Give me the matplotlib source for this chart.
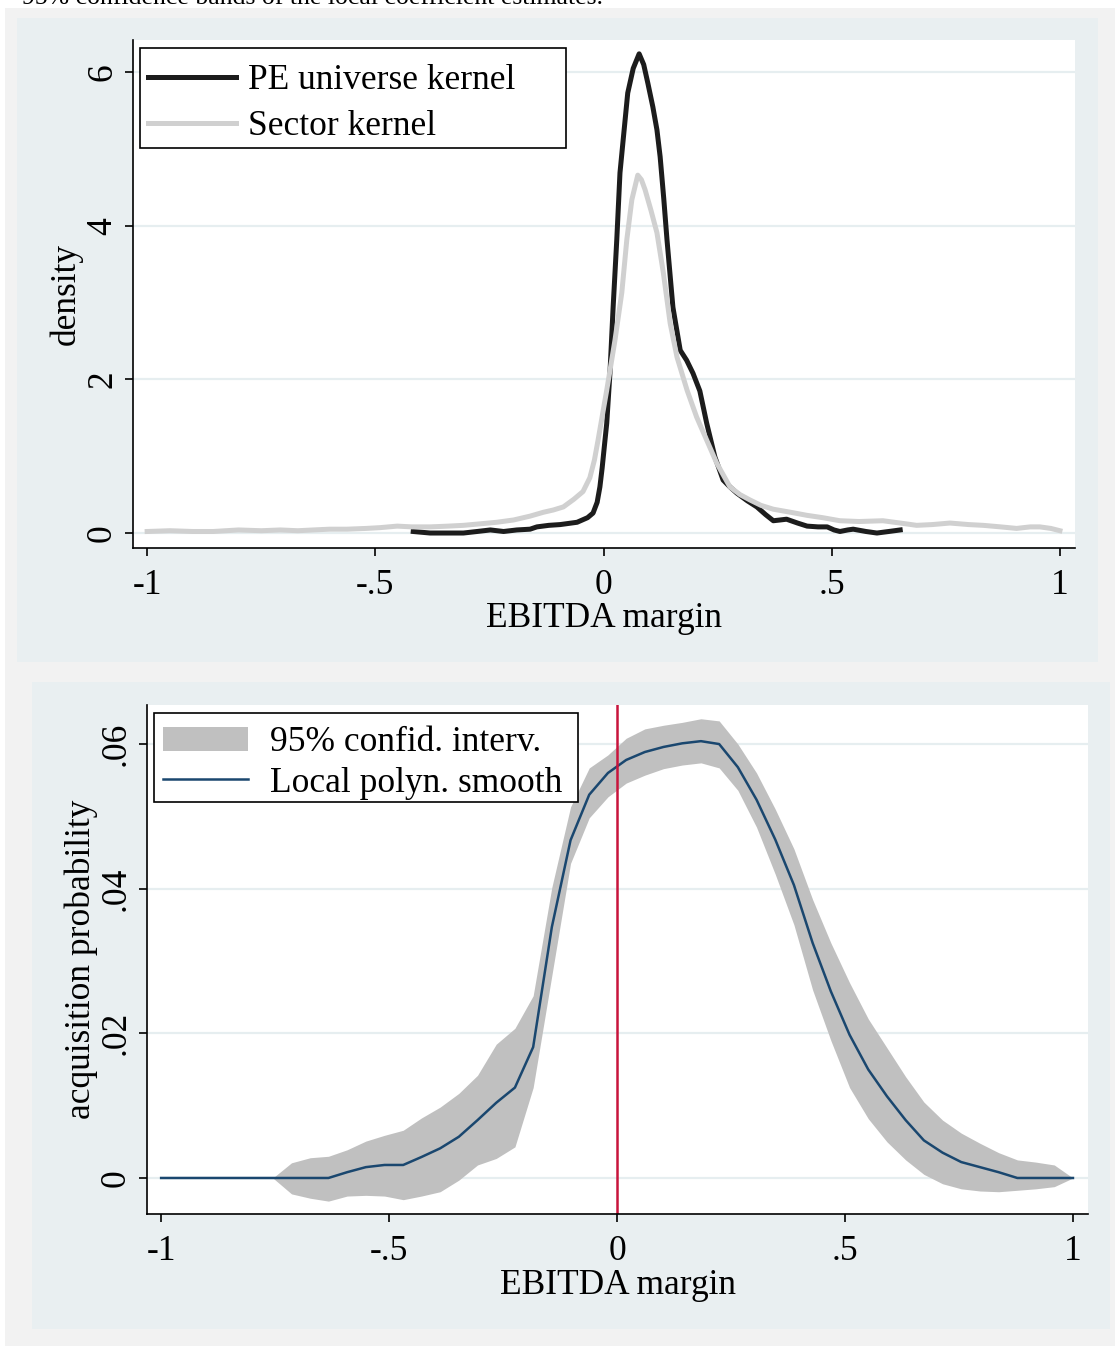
import matplotlib
matplotlib.use("Agg")
import matplotlib.pyplot as plt
from matplotlib.patches import Rectangle

plt.rcParams['font.family'] = ['Liberation Serif', 'DejaVu Serif']

# --- top panel: kernel densities of EBITDA margin ---
pe_x = [-0.417, -0.38, -0.34, -0.307, -0.277, -0.248, -0.219, -0.19, -0.161, -0.146,
        -0.12, -0.095, -0.058, -0.035, -0.023, -0.014, -0.008, -0.003, 0.003, 0.007,
        0.014, 0.021, 0.029, 0.036, 0.043, 0.053, 0.065, 0.078, 0.088, 0.097,
        0.108, 0.117, 0.124, 0.132, 0.139, 0.152, 0.168, 0.182, 0.196, 0.211,
        0.226, 0.244, 0.262, 0.277, 0.292, 0.315, 0.336, 0.355, 0.372, 0.387,
        0.401, 0.425, 0.446, 0.47, 0.49, 0.505, 0.518, 0.535, 0.547, 0.575,
        0.599, 0.625, 0.65]
pe_y = [0.02, 0.0, 0.0, 0.0, 0.02, 0.04, 0.02, 0.04, 0.05, 0.08,
        0.10, 0.11, 0.14, 0.20, 0.26, 0.40, 0.60, 0.85, 1.20, 1.43,
        2.08, 2.94, 3.82, 4.69, 5.12, 5.73, 6.05, 6.24, 6.10, 5.86,
        5.55, 5.25, 4.90, 4.35, 3.82, 2.94, 2.38, 2.25, 2.08, 1.85,
        1.43, 0.99, 0.69, 0.60, 0.52, 0.42, 0.34, 0.24, 0.16, 0.17,
        0.18, 0.13, 0.09, 0.08, 0.08, 0.04, 0.02, 0.04, 0.05, 0.02,
        0.0, 0.02, 0.04]

sector_x = [-1.0, -0.95, -0.9, -0.855, -0.8, -0.75, -0.708, -0.67, -0.636, -0.6,
            -0.562, -0.52, -0.49, -0.452, -0.42, -0.38, -0.34, -0.307, -0.27, -0.234,
            -0.197, -0.161, -0.132, -0.11, -0.088, -0.065, -0.045, -0.03, -0.02, -0.012,
            0.007, 0.025, 0.04, 0.051, 0.062, 0.075, 0.083, 0.091, 0.104, 0.117,
            0.131, 0.146, 0.161, 0.183, 0.204, 0.226, 0.248, 0.277, 0.299, 0.321,
            0.345, 0.372, 0.41, 0.446, 0.48, 0.518, 0.56, 0.612, 0.65, 0.686,
            0.72, 0.759, 0.8, 0.832, 0.87, 0.905, 0.935, 0.956, 0.98, 1.0]
sector_y = [0.02, 0.03, 0.02, 0.02, 0.04, 0.03, 0.04, 0.03, 0.04, 0.05,
            0.05, 0.06, 0.07, 0.09, 0.08, 0.08, 0.09, 0.10, 0.12, 0.14,
            0.17, 0.22, 0.27, 0.30, 0.34, 0.44, 0.54, 0.72, 0.95, 1.21,
            1.86, 2.51, 3.13, 3.82, 4.34, 4.66, 4.60, 4.47, 4.20, 3.91,
            3.39, 2.73, 2.29, 1.86, 1.51, 1.21, 0.91, 0.60, 0.50, 0.43,
            0.36, 0.31, 0.27, 0.23, 0.20, 0.16, 0.15, 0.16, 0.13, 0.10,
            0.11, 0.13, 0.11, 0.10, 0.08, 0.06, 0.08, 0.08, 0.06, 0.03]

# --- bottom panel: local polynomial smooth of acquisition probability ---
grid_x = [-1.0, -0.959, -0.918, -0.878, -0.837, -0.796, -0.755, -0.714, -0.673, -0.633,
          -0.592, -0.551, -0.51, -0.469, -0.429, -0.388, -0.347, -0.306, -0.265, -0.224,
          -0.184, -0.143, -0.102, -0.061, -0.02, 0.02, 0.061, 0.102, 0.143, 0.184,
          0.224, 0.265, 0.306, 0.347, 0.388, 0.429, 0.469, 0.51, 0.551, 0.592,
          0.633, 0.673, 0.714, 0.755, 0.796, 0.837, 0.878, 0.918, 0.959, 1.0]
smooth = [0, 0, 0, 0, 0, 0, 0, 0, 0, 0,
          0.0008, 0.0015, 0.0018, 0.0018, 0.0029, 0.0041, 0.0057, 0.0080, 0.0104, 0.0125,
          0.0181, 0.0347, 0.0467, 0.0530, 0.0560, 0.0578, 0.0589, 0.0596, 0.0601, 0.0604,
          0.0600, 0.0568, 0.0523, 0.0468, 0.0405, 0.0325, 0.0258, 0.0198, 0.0150, 0.0113,
          0.0080, 0.0052, 0.0035, 0.0022, 0.0015, 0.0008, 0, 0, 0, 0]
ci_upper = [0, 0, 0, 0, 0, 0, 0, 0.0021, 0.0028, 0.0030,
            0.0039, 0.0051, 0.0059, 0.0066, 0.0083, 0.0098, 0.0117, 0.0142, 0.0185, 0.0207,
            0.0252, 0.0402, 0.0513, 0.0567, 0.0585, 0.0608, 0.0621, 0.0626, 0.0630, 0.0635,
            0.0632, 0.0600, 0.0560, 0.0510, 0.0455, 0.0385, 0.0325, 0.0270, 0.0220, 0.0180,
            0.0140, 0.0105, 0.0080, 0.0062, 0.0048, 0.0035, 0.0025, 0.0022, 0.0018, 0]
ci_lower = [0, 0, 0, 0, 0, 0, 0, -0.0022, -0.0028, -0.0032,
            -0.0025, -0.0024, -0.0025, -0.0030, -0.0025, -0.0019, -0.0003, 0.0018, 0.0027, 0.0043,
            0.0125, 0.0280, 0.0435, 0.0498, 0.0527, 0.0546, 0.0557, 0.0566, 0.0571, 0.0574,
            0.0567, 0.0536, 0.0485, 0.0420, 0.0350, 0.0260, 0.0190, 0.0125, 0.0082, 0.0050,
            0.0025, 0.0005, -0.0008, -0.0015, -0.0018, -0.0019, -0.0017, -0.0015, -0.0012, 0]

xticks = [-1, -0.5, 0, 0.5, 1]
xticklabels = ['-1', '-.5', '0', '.5', '1']
top_yticks = [0, 2, 4, 6]
bot_yticks = [0, 0.02, 0.04, 0.06]
bot_yticklabels = ['0', '.02', '.04', '.06']

W, H = 1115, 1346
FS = 25.5
panel_col = '#e9eff1'
grid_col = '#e6eef0'

fig = plt.figure(figsize=(W / 100, H / 100), dpi=100, facecolor='white')


def box(x0, y0, x1, y1, color):
    fig.patches.append(Rectangle((x0 / W, 1 - y1 / H), (x1 - x0) / W, (y1 - y0) / H,
                                 transform=fig.transFigure, facecolor=color,
                                 edgecolor='none', zorder=-10))


box(5, 8, 1115, 1346, '#f2f2f2')
box(17, 18, 1098, 662, panel_col)
box(32, 682, 1110, 1329, panel_col)

# caption of the page above, cut off at the top edge as in the source
fig.text(22 / W, 1 - 4 / H, '95% confidence bands of the local coefficient estimates.',
         fontsize=18.5, va='baseline', ha='left')


def make_axes(x0, y0, x1, y1):
    ax = fig.add_axes([x0 / W, 1 - y1 / H, (x1 - x0) / W, (y1 - y0) / H])
    ax.set_facecolor('white')
    for s in ['top', 'right']:
        ax.spines[s].set_visible(False)
    for s in ['left', 'bottom']:
        ax.spines[s].set_linewidth(1.2)
    ax.tick_params(direction='out', length=6, width=1.2, labelsize=FS)
    ax.tick_params(axis='x', pad=9)
    ax.tick_params(axis='y', pad=4)
    ax.set_xlim(-1.031, 1.033)
    ax.set_xticks(xticks)
    ax.set_xticklabels(xticklabels)
    ax.yaxis.grid(True, color=grid_col, linewidth=1.6)
    ax.set_axisbelow(True)
    return ax


def legend_box(ax, x0, y0, x1, y1):
    # frame in axes fractions, drawn over the data like the source legend
    ax.add_patch(Rectangle((x0, y1), x1 - x0, y0 - y1, transform=ax.transAxes,
                           facecolor='white', edgecolor='black', lw=1.2,
                           zorder=5, clip_on=False))


# top
ax1 = make_axes(133, 40, 1075, 548)
ax1.plot(pe_x, pe_y, color='#1c1c1c', lw=3.6, label='PE universe kernel')
ax1.plot(sector_x, sector_y, color='#d0d0d0', lw=3.6, label='Sector kernel')
ax1.set_ylim(-0.195, 6.42)
ax1.set_yticks(top_yticks)
ax1.set_yticklabels([str(t) for t in top_yticks], rotation=90, va='center')
ax1.set_xlabel('EBITDA margin', fontsize=FS)
ax1.set_ylabel('density', fontsize=FS)
ax1.xaxis.set_label_coords(0.5, -0.106)
ax1.yaxis.set_label_coords(-0.053, 0.5)
legend_box(ax1, 0.0074, 0.9843, 0.4597, 0.7874)
leg1 = ax1.legend(loc='upper left', bbox_to_anchor=(-0.0011, 0.9843), borderaxespad=0,
                  fontsize=FS, frameon=False, handlelength=2.5, handletextpad=0.34,
                  borderpad=0.45, labelspacing=0.37)
leg1.set_zorder(6)

# bottom
ax2 = make_axes(147, 705, 1088, 1214)
ax2.fill_between(grid_x, ci_lower, ci_upper, color='#c0c0c0', lw=0,
                 label='95% confid. interv.')
ax2.plot(grid_x, smooth, color='#1a476f', lw=1.8, label='Local polyn. smooth')
ax2.axvline(0, color='#c8143c', lw=1.8)
ax2.set_ylim(-0.00498, 0.0654)
ax2.set_yticks(bot_yticks)
ax2.set_yticklabels(bot_yticklabels, rotation=90, va='center')
ax2.set_xlabel('EBITDA margin', fontsize=FS)
ax2.set_ylabel('acquisition probability', fontsize=FS)
ax2.xaxis.set_label_coords(0.5, -0.108)
ax2.yaxis.set_label_coords(-0.052, 0.5)
legend_box(ax2, 0.0074, 0.9843, 0.458, 0.8094)
leg2 = ax2.legend(loc='upper left', bbox_to_anchor=(0.0026, 0.9843), borderaxespad=0,
                  fontsize=FS, frameon=False, handlelength=2.4, handletextpad=0.62,
                  borderpad=0.38, labelspacing=0.2)
leg2.set_zorder(6)

fig.savefig('out.png', dpi=100)
